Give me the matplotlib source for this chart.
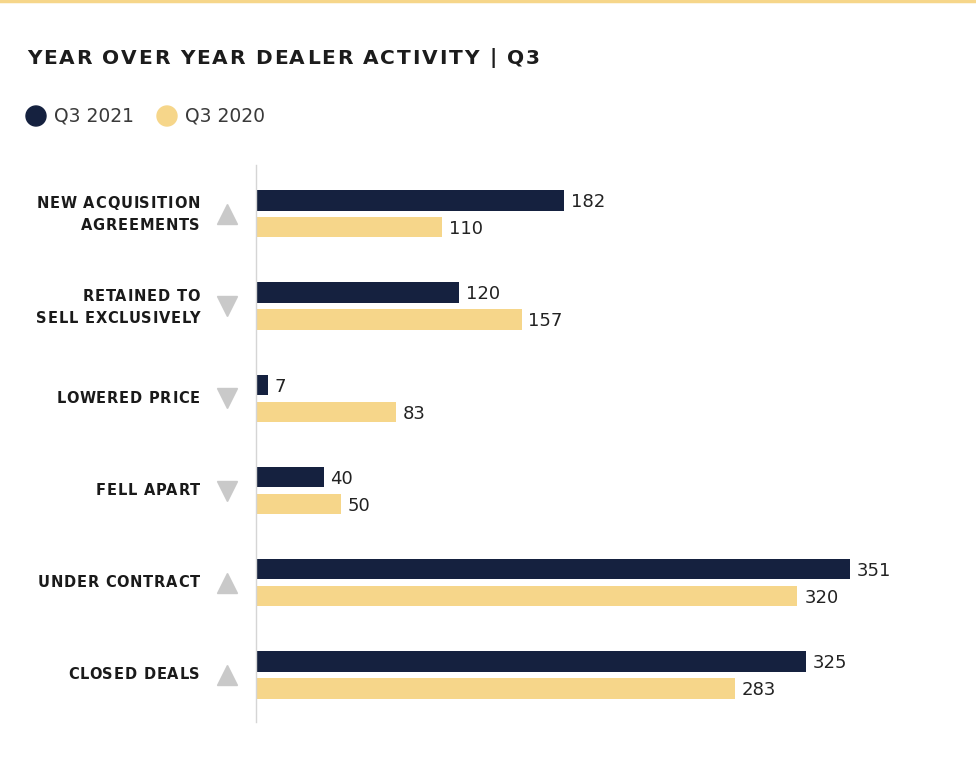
import matplotlib
matplotlib.use("Agg")
import matplotlib.pyplot as plt
from matplotlib.transforms import blended_transform_factory
from matplotlib.patches import Ellipse

categories = ["NEW ACQUISITION\nAGREEMENTS", "RETAINED TO\nSELL EXCLUSIVELY", "LOWERED PRICE",
              "FELL APART", "UNDER CONTRACT", "CLOSED DEALS"]
q3_2021 = [182, 120, 7, 40, 351, 325]
q3_2020 = [110, 157, 83, 50, 320, 283]
trend = ["up", "down", "down", "down", "up", "up"]
series_names = ["Q3 2021", "Q3 2020"]
title = "YEAR OVER YEAR DEALER ACTIVITY | Q3"

NAVY = "#15213F"
GOLD = "#F6D68A"
GRAY = "#C9C9C9"

W, H = 976, 770
fig = plt.figure(figsize=(W / 100, H / 100), dpi=100)
renderer = fig.canvas.get_renderer()


def text_width(s, **kw):
    t = fig.text(0, 0, s, **kw)
    w = t.get_window_extent(renderer).width
    t.remove()
    return w


def tracked_text(x_px, y_px, s, tracking, align="left", **kw):
    offsets = []
    for i, c in enumerate(s):
        if c == " ":
            offsets.append(None)
            continue
        offsets.append(text_width(s[:i + 1], **kw) - text_width(c, **kw) + tracking * i)
    total = text_width(s, **kw) + tracking * (len(s) - 1)
    x0 = x_px if align == "left" else x_px - total
    for c, o in zip(s, offsets):
        if o is not None:
            fig.text((x0 + o) / W, 1 - y_px / H, c, ha="left", va="center", **kw)


ax = fig.add_axes([256 / W, 1 - 722 / H, (W - 256) / W, 557 / H])

off = 0.146
bh = 0.22
ys = list(range(len(categories)))
ax.barh([y - off for y in ys], q3_2021, height=bh, color=NAVY)
ax.barh([y + off for y in ys], q3_2020, height=bh, color=GOLD)
ax.set_xlim(0, 425.5)
ax.set_ylim(5.51, -0.53)

for y, v in zip(ys, q3_2021):
    ax.text(v + 4, y - off + 0.02, str(v), va="center", ha="left", fontsize=13, color="#222222")
for y, v in zip(ys, q3_2020):
    ax.text(v + 4, y + off + 0.02, str(v), va="center", ha="left", fontsize=13, color="#222222")

for s in ["top", "right", "bottom"]:
    ax.spines[s].set_visible(False)
ax.spines["left"].set_color("#D5D5D5")
ax.spines["left"].set_linewidth(1)
ax.set_xticks([])
ax.set_yticks([])

tr = blended_transform_factory(fig.transFigure, ax.transData)
for y, c, t in zip(ys, categories, trend):
    ax.plot([227 / W], [y], marker="^" if t == "up" else "v", markersize=15,
            color=GRAY, transform=tr, clip_on=False, linestyle="none")

fig.canvas.draw()
for y, c in zip(ys, categories):
    ypx = H - ax.transData.transform((0, y))[1]
    lines = c.split("\n")
    kw = dict(fontsize=10.5, fontweight="bold", color="#1a1a1a")
    if len(lines) == 1:
        tracked_text(200, ypx, lines[0], 0.8, align="right", **kw)
    else:
        tracked_text(200, ypx - 10, lines[0], 0.8, align="right", **kw)
        tracked_text(200, ypx + 12, lines[1], 0.8, align="right", **kw)

# top rule
fig.add_artist(plt.Line2D([0, 1], [1 - 1 / H, 1 - 1 / H], color=GOLD, linewidth=2.5))

tracked_text(27, 58, title, 1.8, align="left", fontsize=14.5, fontweight="bold", color="#1c1c1c")

# legend
for (cx, col, tx, name) in [(36, NAVY, 54, series_names[0]), (167, GOLD, 185, series_names[1])]:
    fig.add_artist(Ellipse((cx / W, 1 - 116 / H), 20 / W, 20 / H, color=col,
                           transform=fig.transFigure))
    fig.text(tx / W, 1 - 116 / H, name, ha="left", va="center", fontsize=13.5,
             color="#3a3a3a")

fig.savefig("out.png", dpi=100)
